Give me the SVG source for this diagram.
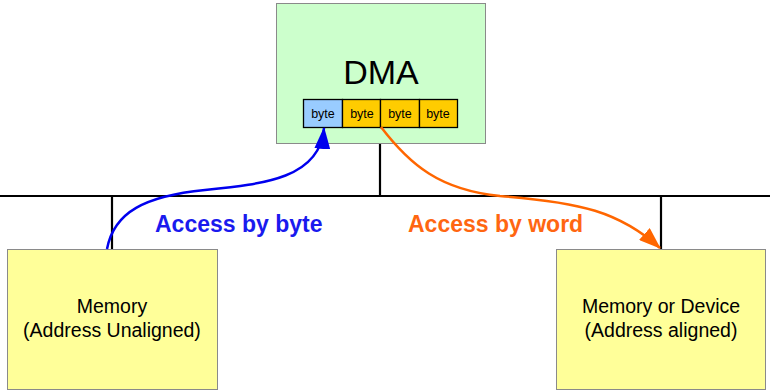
<svg xmlns="http://www.w3.org/2000/svg" width="770" height="391" viewBox="0 0 770 391">
<style>
.box{stroke:#8a8a8a;stroke-width:1}
.line{stroke:#000;stroke-width:2.2;fill:none}
.cell{stroke:#000;stroke-width:1.3}
.t{font-family:"Liberation Sans",Arial,sans-serif;fill:#000;text-anchor:middle}
.lbl{font-family:"Liberation Sans",Arial,sans-serif;font-weight:bold;font-size:23px}
</style>
<defs>
<marker id="ab" viewBox="0 0 22 16" refX="21" refY="8" markerWidth="22" markerHeight="16" markerUnits="userSpaceOnUse" orient="auto">
<path d="M0,0 L22,8 L0,16 z" fill="#0000ee"/>
</marker>
<marker id="ao" viewBox="0 0 22 16" refX="21" refY="8" markerWidth="22" markerHeight="16" markerUnits="userSpaceOnUse" orient="auto">
<path d="M0,0 L22,8 L0,16 z" fill="#ff6600"/>
</marker>
</defs>
<rect width="770" height="391" fill="#fff"/>
<g id="bus">
<line class="line" x1="0" y1="196" x2="770" y2="196"/>
<line class="line" x1="380" y1="143" x2="380" y2="196"/>
<line class="line" x1="112" y1="196" x2="112" y2="249"/>
<line class="line" x1="661" y1="196" x2="661" y2="249"/>
</g>
<g id="dma">
<rect class="box" x="276.5" y="3.5" width="209" height="140" fill="#ccffcc"/>
<text class="t" x="381" y="84" font-size="34">DMA</text>
<rect class="cell" x="303.5" y="99.5" width="39" height="28" fill="#99ccff"/>
<rect class="cell" x="342.5" y="99.5" width="38" height="28" fill="#ffcc00"/>
<rect class="cell" x="380.5" y="99.5" width="39" height="28" fill="#ffcc00"/>
<rect class="cell" x="419.5" y="99.5" width="38" height="28" fill="#ffcc00"/>
<text class="t" x="323" y="118" font-size="12.5">byte</text>
<text class="t" x="362" y="118" font-size="12.5">byte</text>
<text class="t" x="400" y="118" font-size="12.5">byte</text>
<text class="t" x="438" y="118" font-size="12.5">byte</text>
</g>
<g id="mem-left">
<rect class="box" x="7.5" y="249.5" width="210" height="140" fill="#ffff99"/>
<text class="t" x="112" y="313" font-size="19.5">Memory</text>
<text class="t" x="112" y="337" font-size="19.5">(Address Unaligned)</text>
</g>
<g id="mem-right">
<rect class="box" x="556.5" y="249.5" width="209" height="140" fill="#ffff99"/>
<text class="t" x="661" y="313" font-size="19.5">Memory or Device</text>
<text class="t" x="661" y="337" font-size="19.5">(Address aligned)</text>
</g>
<g id="connectors">
<path d="M107,249 C114,212 145,196 205,190 C265,184 320,178 324,128" fill="none" stroke="#0000ee" stroke-width="2.5" marker-end="url(#ab)"/>
<path d="M381,127 C410,165 440,190 500,196 C580,202 620,212 660,248" fill="none" stroke="#ff6600" stroke-width="2.5" marker-end="url(#ao)"/>
</g>
<g id="labels">
<text class="lbl" x="155" y="232" fill="#1a1aee">Access by byte</text>
<text class="lbl" x="408" y="232" fill="#ff6611">Access by word</text>
</g>
</svg>
